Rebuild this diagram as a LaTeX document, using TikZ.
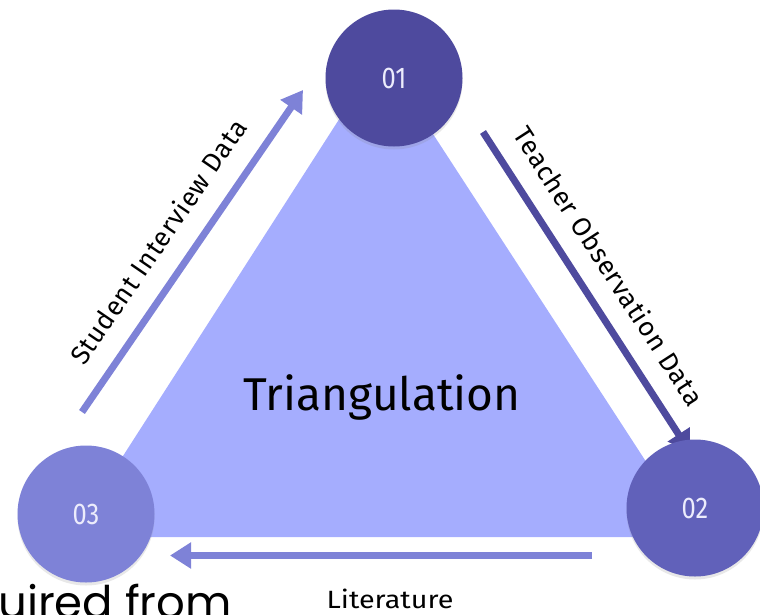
\documentclass[tikz,border=0pt]{standalone}
\usepackage{fontspec}
\setmainfont{Fira Sans}
\newfontfamily\gothic{Poppins}
\usetikzlibrary{arrows.meta,shadows}
\definecolor{cone}{RGB}{78,74,158}
\definecolor{ctwo}{RGB}{97,97,186}
\definecolor{cthree}{RGB}{126,130,215}
\definecolor{ctri}{RGB}{165,173,254}
\definecolor{numtxt}{RGB}{236,236,252}
\tikzset{
  bubble/.style={circle, minimum size=137pt, inner sep=0pt, text=numtxt,
    font=\fontsize{30}{32}\selectfont,
    drop shadow={opacity=0.18, shadow xshift=0pt, shadow yshift=-3pt}},
  flow/.style={line width=7pt, -{Triangle[length=21pt,width=25pt]}},
  lbl/.style={font=\fontsize{26.5}{28}\selectfont\addfontfeatures{LetterSpace=3}, text=black, inner sep=0pt},
}
\begin{document}
\begin{tikzpicture}[x=1pt,y=-1pt]
\useasboundingbox (0,0) rectangle (760,614);
\clip (0,0) rectangle (760,614);
% triangle
\fill[ctri] (381,54) -- (695,537) -- (71,537) -- cycle;
% arrow end points
\coordinate (sa) at (82,412);
\coordinate (sb) at (303,90);
\coordinate (ta) at (483,132);
\coordinate (tb) at (690,452);
\coordinate (la) at (592,555.5);
\coordinate (lb) at (170,555.5);
\draw[flow, cthree] (sa) -- (sb)
  node[lbl, pos=0.47, sloped, above=20pt] {Student Interview Data};
\draw[flow, cone] (ta) -- (tb)
  node[lbl, pos=0.475, sloped, above=19pt] {Teacher Observation Data};
\draw[flow, cthree] (la) -- (lb);
% circles
\node[bubble, fill=cone] (c1) at (394,78) {\scalebox{0.85}[1]{01}};
\node[bubble, fill=ctwo] (c2) at (695,508) {\scalebox{0.85}[1]{02}};
\node[bubble, fill=cthree] (c3) at (86,514) {\scalebox{0.85}[1]{03}};
% texts
\node[anchor=base, inner sep=0pt, font=\fontsize{46}{50}\selectfont] (tri) at (382,410) {Triangulation};
\node[anchor=base, inner sep=0pt, font=\fontsize{25}{27}\selectfont] (lit) at (390,608) {\scalebox{1.15}[1]{Literature}};
\node[anchor=base west, inner sep=0pt, font=\gothic\fontsize{45}{48}\selectfont] (frag) at (-2,618) {uired from};
\end{tikzpicture}
\end{document}
